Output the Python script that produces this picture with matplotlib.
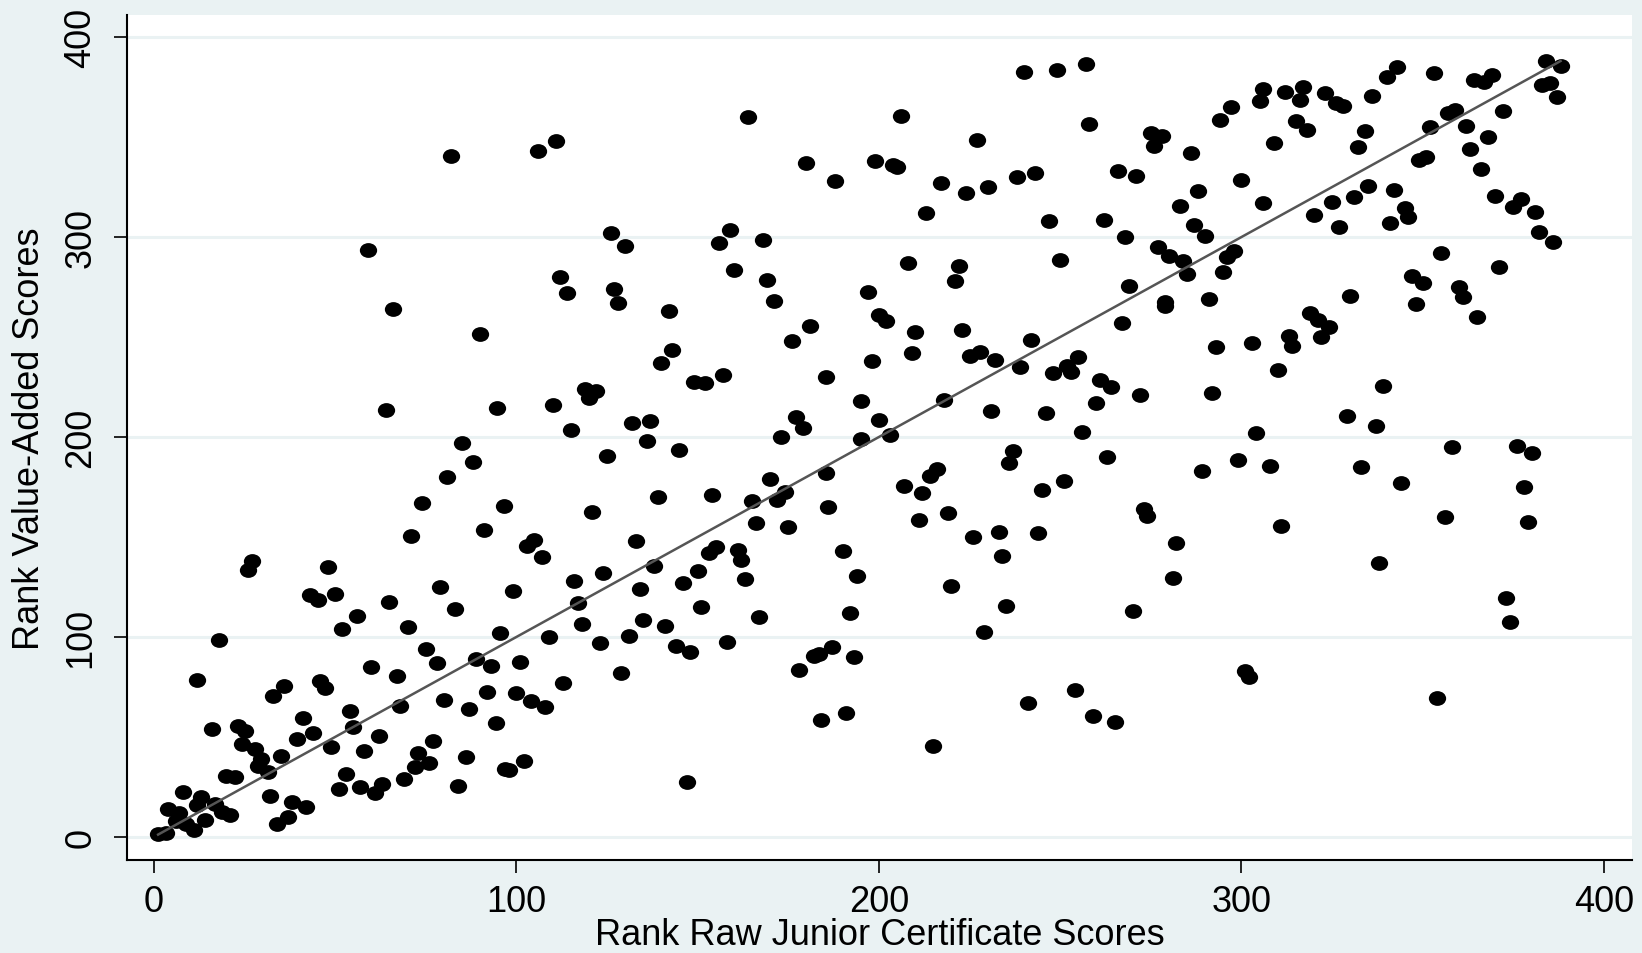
import matplotlib
matplotlib.use("Agg")
import matplotlib.pyplot as plt
from matplotlib.path import Path
from matplotlib.transforms import Affine2D

# rank of raw Junior Certificate score vs rank of value-added score
raw_rank = [
    1.2, 3.5, 4, 7, 8, 6, 9, 11, 12, 13, 14, 16.8, 18.7, 21, 16, 12, 18, 20, 22.3, 23.3,
    25.1, 24.2, 27.9, 29.7, 28.8, 31.5, 32, 35, 33, 36, 38, 42, 37, 34, 39.4, 41.2, 44, 45.8, 47.2, 43,
    45.3, 50, 49, 52, 54, 55, 56, 53, 51, 57, 61, 63, 58, 60, 62, 65, 67, 68, 70, 69,
    72, 73, 76, 77, 75, 78, 80, 83, 84, 86, 87, 89, 92, 93, 94.5, 95.4, 97,
    66, 90, 64, 94.8, 84.9, 88, 81, 74, 96.5, 71, 91, 27, 26, 48, 79,
    82, 59,
    106, 111, 164, 180, 188, 199, 126, 130, 159, 156, 168, 112, 114, 127, 128, 160, 169, 171, 197,
    142, 200, 202, 181, 176, 198, 185.5, 195, 200, 195, 143, 140, 157, 149, 152, 119, 122, 120, 110, 115,
    132, 137, 136, 145, 125, 177, 179, 173, 185.5, 170, 174, 172, 165, 154, 139, 186, 166, 175, 121, 105,
    103, 107, 133, 155, 153, 161, 162, 138, 150, 146, 134, 163, 124, 116, 99, 190, 194,
    117, 118, 109, 123, 131, 135, 141, 151, 144, 148, 158, 167, 192, 101, 113, 129, 100, 104, 108, 178,
    182, 183.5, 187, 193, 184, 191, 98, 102, 147,
    240, 249, 257, 206, 227, 258, 204, 205, 217, 224, 230, 238, 243, 213, 247, 262, 266, 271, 275, 278,
    276, 286, 294, 297, 305, 300, 283, 288, 287, 290, 268, 277, 280, 284, 285, 296, 298, 295, 269, 279,
    291, 208, 222, 221, 250,
    306, 312, 317, 316, 323, 326, 328, 343, 340, 336, 353, 364, 367, 369, 384, 388, 383, 385, 387, 372,
    357, 359, 352, 362, 368, 363, 366, 349, 351, 315, 318, 334, 332, 309, 306, 320, 325, 331, 335, 342,
    327, 341, 345, 346, 370, 377, 375, 381, 382, 386, 355, 371, 347, 350, 360, 361, 330, 348,
    210, 223, 209, 225, 228, 232, 242, 239, 248, 252, 255, 253, 267, 261, 264, 260, 272, 293, 303, 292,
    279, 218, 203, 231, 246, 256, 237, 236, 263, 304, 299, 289, 216, 214, 207, 212, 245, 251, 211, 219,
    226, 233, 234, 244, 273, 274, 282, 281, 220,
    235, 229, 270, 301, 302, 241, 254, 259, 265, 215,
    365, 319, 321, 324, 322, 313, 314, 310, 339, 329, 337, 358, 376, 380, 308, 333, 344, 378, 356, 379,
    311, 338, 373, 374, 354,
]
va_rank = [
    1.5, 2, 14, 12, 22.7, 8, 6.5, 3.5, 16, 19.8, 8.5, 16.5, 12.3, 11, 54, 78.5, 98.7, 30.7, 29.8, 55.7,
    53.2, 46.5, 44, 39, 35.7, 32.3, 20.7, 40.3, 70.7, 75.7, 17.3, 14.8, 9.8, 6.5, 49, 59.5, 51.8, 77.8, 74.5, 121,
    118.5, 121.5, 44.8, 104, 62.8, 54.8, 110.7, 31.5, 24, 24.8, 21.8, 26.5, 42.8, 84.8, 50.7, 117.7, 80.7, 65.7, 104.8, 29,
    34.8, 41.8, 36.8, 47.8, 94, 86.8, 68.7, 114, 25.7, 39.8, 64, 89, 72.7, 85.7, 56.8, 101.8, 34,
    264, 251.5, 213.5, 214.5, 196.8, 187.7, 179.8, 166.8, 165.7, 150.7, 153.5, 137.8, 133.7, 134.8, 124.8,
    340.7, 293.7,
    342.8, 347.8, 359.8, 336.8, 327.8, 337.8, 301.8, 295.7, 303.7, 296.8, 298.7, 279.8, 271.8, 274, 266.8, 283.7, 278.7, 268, 272.7,
    262.8, 261, 258, 255.7, 247.8, 237.8, 229.8, 217.8, 208.7, 199, 243.7, 236.8, 231, 227.7, 226.8, 224, 222.8, 219.5, 216, 203.7,
    207, 207.8, 197.8, 193.7, 190.7, 209.8, 204.5, 199.8, 181.8, 179, 172.7, 168.7, 167.8, 171, 169.8, 164.8, 156.8, 154.8, 162.7, 148.7,
    145.7, 139.8, 147.8, 144.8, 141.8, 143.7, 138.7, 135.7, 132.8, 126.8, 124, 129, 131.8, 127.8, 123.2, 142.8, 130.7,
    116.8, 106.5, 99.8, 96.8, 100.7, 108.7, 105.7, 114.8, 95.7, 92.7, 97.7, 109.8, 111.8, 87.7, 76.8, 81.8, 71.8, 67.8, 64.8, 83.7,
    90.7, 91.5, 94.8, 89.8, 58.7, 61.8, 33.7, 37.8, 27.7,
    382.7, 383.7, 386.5, 360.7, 348.7, 356.5, 336, 335, 326.8, 321.8, 324.8, 329.8, 331.8, 311.8, 307.8, 308.7, 332.8, 330.7, 352, 350.7,
    345.7, 341.8, 358.7, 364.8, 367.8, 328.7, 315.7, 322.8, 306, 300.7, 299.8, 294.8, 290.7, 287.8, 281.5, 289.8, 292.8, 282.7, 275.7, 267.3,
    269, 286.8, 285.7, 277.8, 288.7,
    374, 372.7, 374.8, 368.5, 372, 366.8, 365.7, 384.8, 379.8, 370.7, 381.8, 378.7, 377.7, 381, 388, 385.7, 376, 376.8, 369.8, 362.8,
    362, 363.7, 354.8, 355.7, 349.8, 344, 334, 338.7, 339.8, 357.8, 353.7, 352.8, 344.8, 346.8, 316.8, 311, 317.7, 319.8, 325.7, 323.7,
    304.8, 306.8, 314.3, 309.8, 320.7, 319, 314.8, 312.7, 302.7, 297.7, 291.8, 284.8, 280.7, 276.8, 274.8, 269.8, 270.7, 266.5,
    252.7, 253.7, 241.8, 240.7, 242.7, 238.7, 248.7, 234.8, 231.8, 235.7, 239.8, 232.3, 256.8, 228.7, 224.8, 216.8, 221, 244.8, 246.8, 221.8,
    265.7, 218.5, 201, 212.8, 211.8, 202.7, 193.2, 186.8, 189.8, 201.8, 188.7, 182.8, 184, 180.3, 175.7, 171.8, 173.7, 177.8, 158.7, 161.8,
    149.8, 152.7, 140.7, 151.8, 164, 160.7, 146.8, 129.5, 125.7,
    115.7, 102.7, 112.8, 82.8, 79.8, 66.8, 73.7, 60.7, 57.7, 45.7,
    259.8, 261.8, 258.5, 254.8, 249.8, 250.7, 245.7, 233.7, 225.7, 210.7, 205.7, 194.8, 195.7, 191.8, 185.7, 184.8, 176.8, 174.8, 159.8, 157.7,
    155.7, 136.8, 119.5, 107.7, 69.5,
]
ticks = [0, 100, 200, 300, 400]

bg = "#EAF2F3"
plt.rcParams["font.family"] = ["Liberation Sans", "DejaVu Sans"]

fig = plt.figure(figsize=(16.42, 9.54), dpi=100, facecolor=bg)
ax = fig.add_axes([0.0773, 0.0975, 0.9166, 0.8857])
ax.set_facecolor("white")

# Stata-like dots are slightly wider than tall
dot = Path.unit_circle().transformed(Affine2D().scale(1.17, 1.0))
ax.scatter(raw_rank, va_rank, s=155, marker=dot, color="black", linewidths=0, zorder=3)

# 45-degree line over the range of the data
lo, hi = min(raw_rank), max(raw_rank)
ax.plot([lo, hi], [lo, hi], color="#555555", lw=1.8, zorder=4)

ax.set_xlim(-7.4, 407.7)
ax.set_ylim(-11.5, 411)
ax.set_xticks(ticks)
ax.set_yticks(ticks)
ax.grid(axis="y", color=bg, lw=2.2, zorder=0)
ax.grid(axis="x", visible=False)
ax.set_axisbelow(True)

for side in ["top", "right"]:
    ax.spines[side].set_visible(False)
for side in ["left", "bottom"]:
    ax.spines[side].set_linewidth(1.5)
    ax.spines[side].set_color("black")

ax.tick_params(axis="both", direction="out", length=9.5, width=1.2, labelsize=26, color="black")
ax.tick_params(axis="x", pad=8)
ax.tick_params(axis="y", pad=11, labelrotation=90)
for t in ax.get_yticklabels():
    t.set_va("center")

ax.set_xlabel("Rank Raw Junior Certificate Scores", fontsize=26, labelpad=-2)
ax.set_ylabel("Rank Value-Added Scores", fontsize=26, labelpad=12)

fig.savefig("out.png", dpi=100, facecolor=bg)
